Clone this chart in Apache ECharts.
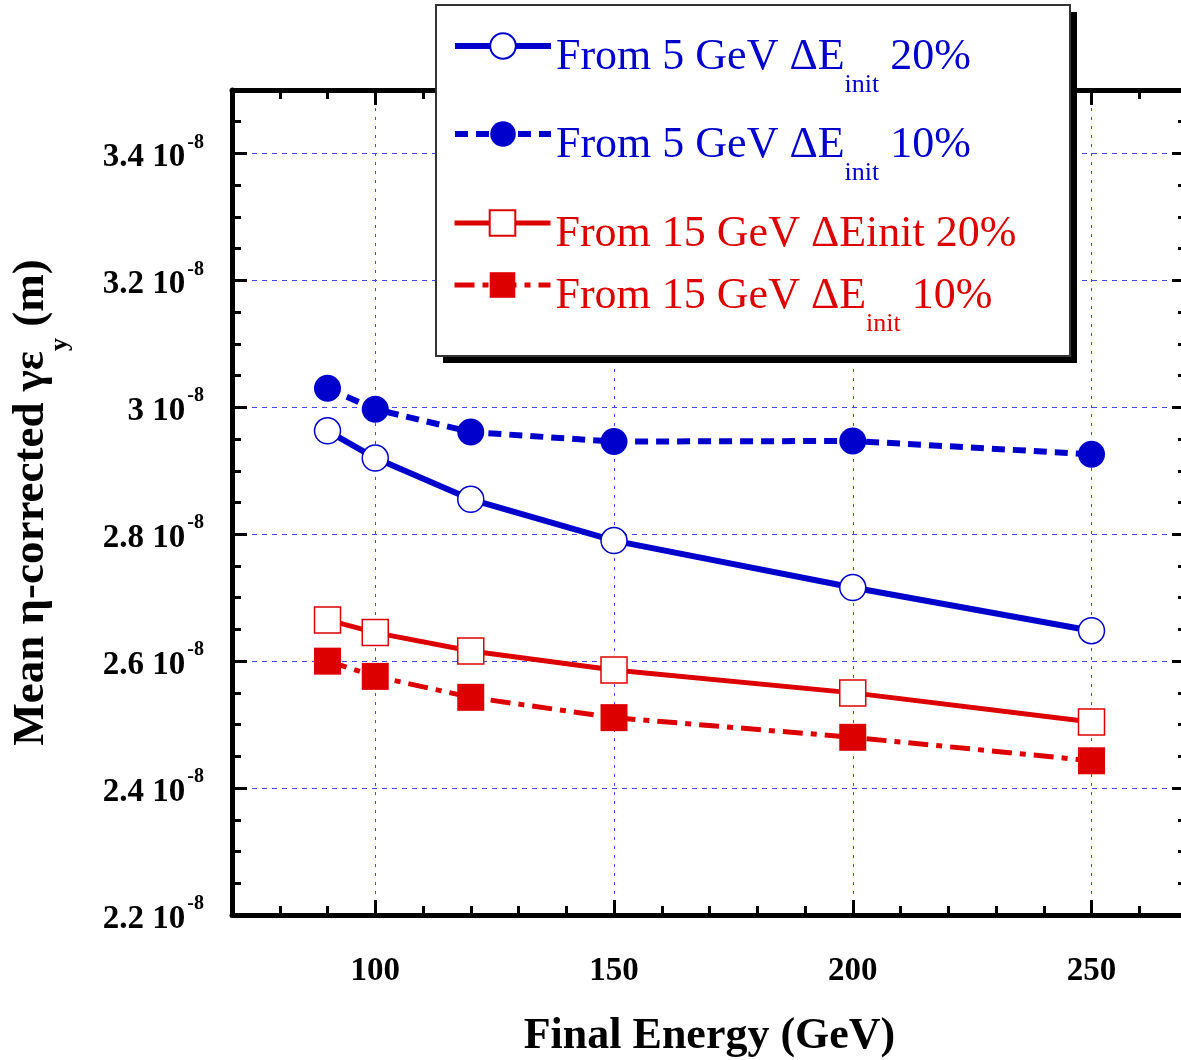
<!DOCTYPE html>
<html>
<head>
    <meta charset="utf-8" />
    <title>Mean eta-corrected emittance vs final energy</title>
    <script src="https://cdn.jsdelivr.net/npm/echarts@6.0.0/dist/echarts.min.js"></script>
    <style>
        html, body { margin: 0; padding: 0; background: #fff; }
        #chart { width: 1181px; height: 1060px; }
    </style>
</head>
<body>
<div id="chart"></div>
<script type="text/javascript">
    // final energy (GeV)
    var energies = [90, 100, 120, 150, 200, 250];
    // mean eta-corrected gamma*eps_y, in units of 1e-8 m
    var from5GeV20 = [2.963, 2.92, 2.855, 2.79, 2.716, 2.648];
    var from5GeV10 = [3.03, 2.997, 2.961, 2.946, 2.947, 2.926];
    var from15GeV20 = [2.665, 2.645, 2.616, 2.586, 2.55, 2.504];
    var from15GeV10 = [2.6, 2.576, 2.543, 2.511, 2.48, 2.443];
    var xTicks = [100, 150, 200, 250];
    var seriesNames = ['From 5 GeV ΔE init 20%', 'From 5 GeV ΔE init 10%', 'From 15 GeV ΔEinit 20%', 'From 15 GeV ΔE init 10%'];

    var FONT = "'Liberation Serif', 'Times New Roman', serif";
    var BLUE = '#0000cc';
    var RED = '#dd0000';
    var GRID = '#4646f0';

    var legendLabels = {};
    legendLabels[seriesNames[0]] = '{t|From 5 GeV ΔE}{s|init}{t| 20%}';
    legendLabels[seriesNames[1]] = '{t|From 5 GeV ΔE}{s|init}{t| 10%}';
    legendLabels[seriesNames[2]] = '{t|From 15 GeV ΔEinit 20%}';
    legendLabels[seriesNames[3]] = '{t|From 15 GeV ΔE}{s|init}{t| 10%}';

    function pairs(ys) {
        return energies.map(function (x, i) { return [x, ys[i]]; });
    }

    function fmtY(v) {
        return parseFloat(v.toFixed(2)).toString();
    }

    function makeLegend(name, top, color, lineWidth) {
        return {
            data: [name],
            left: 452,
            top: top,
            padding: 0,
            orient: 'vertical',
            itemWidth: 96,
            itemHeight: 32,
            selectedMode: false,
            z: 10,
            lineStyle: { width: lineWidth },
            formatter: function (n) { return legendLabels[n]; },
            textStyle: {
                color: color,
                rich: {
                    t: { fontFamily: FONT, fontSize: 44, lineHeight: 44, color: color, verticalAlign: 'middle', padding: [22, 0, 0, 0] },
                    s: { fontFamily: FONT, fontSize: 26, lineHeight: 26, color: color, verticalAlign: 'middle', padding: [78, 0, 0, 0] }
                }
            }
        };
    }

    function minorY(pos) {
        return {
            type: 'value', position: pos, min: 2.2, max: 3.5, interval: 0.05,
            axisLine: { show: false, onZero: false },
            axisTick: { show: true, inside: true, length: 9, lineStyle: { color: '#000', width: 3 } },
            axisLabel: { show: false },
            splitLine: { show: false }
        };
    }

    function minorX(pos) {
        return {
            type: 'value', position: pos, min: 70, max: 270, interval: 10,
            axisLine: { show: false, onZero: false },
            axisTick: { show: true, inside: true, length: 9, lineStyle: { color: '#000', width: 3 } },
            axisLabel: { show: false },
            splitLine: { show: false }
        };
    }

    var chart = echarts.init(document.getElementById('chart'));
    var option = {
        animation: false,
        backgroundColor: '#fff',
        grid: { left: 232, right: -6, top: 90, bottom: 145, outerBoundsMode: 'none', containLabel: false },
        graphic: [
            { type: 'rect', z: 5, silent: true, shape: { x: 443, y: 12, width: 634, height: 351 }, style: { fill: '#000' } },
            { type: 'rect', z: 6, silent: true, shape: { x: 436, y: 5, width: 634, height: 351 }, style: { fill: '#fff', stroke: '#333', lineWidth: 2 } }
        ],
        legend: [
            makeLegend(seriesNames[0], -6, BLUE, 6),
            makeLegend(seriesNames[1], 82, BLUE, 6),
            makeLegend(seriesNames[2], 190, RED, 5),
            makeLegend(seriesNames[3], 233, RED, 5)
        ],
        xAxis: [
            {
                type: 'value', position: 'bottom', min: 70, max: 270,
                axisLine: { onZero: false, lineStyle: { color: '#000', width: 5 } },
                axisTick: { inside: true, length: 15, customValues: xTicks, lineStyle: { color: '#000', width: 3 } },
                axisLabel: { customValues: xTicks, margin: 40, fontFamily: FONT, fontWeight: 'bold', fontSize: 33, color: '#000' },
                splitLine: { show: true, lineStyle: { color: GRID, width: 1, type: [3, 6] } },
                name: 'Final Energy (GeV)',
                nameLocation: 'middle',
                nameGap: 100,
                nameTextStyle: { fontFamily: FONT, fontWeight: 'bold', fontSize: 44, color: '#000' }
            },
            minorX('bottom'),
            {
                type: 'value', position: 'top', min: 70, max: 270,
                axisLine: { onZero: false, lineStyle: { color: '#000', width: 5 } },
                axisTick: { inside: true, length: 15, customValues: xTicks, lineStyle: { color: '#000', width: 3 } },
                axisLabel: { show: false },
                splitLine: { show: false }
            },
            minorX('top')
        ],
        yAxis: [
            {
                type: 'value', position: 'left', min: 2.2, max: 3.5, interval: 0.2,
                axisLine: { show: true, onZero: false, lineStyle: { color: '#000', width: 5 } },
                axisTick: { show: true, inside: true, length: 15, lineStyle: { color: '#000', width: 3 } },
                axisLabel: {
                    margin: 28,
                    formatter: function (v) {
                        if (v > 3.45) return '';
                        return '{m|' + fmtY(v) + ' 10}{e|-8}';
                    },
                    rich: {
                        m: { fontFamily: FONT, fontWeight: 'bold', fontSize: 33, lineHeight: 33, color: '#000', verticalAlign: 'middle', padding: [8, 0, 0, 0] },
                        e: { fontFamily: FONT, fontWeight: 'bold', fontSize: 20, lineHeight: 20, color: '#000', verticalAlign: 'middle', padding: [0, 0, 22, 2] }
                    }
                },
                splitLine: { show: true, showMinLine: false, showMaxLine: false, lineStyle: { color: GRID, width: 1, type: [5, 5] } },
                name: '{a|Mean η-corrected γε}{b|y}{a| (m)}',
                nameLocation: 'middle',
                nameRotate: 90,
                nameGap: 178,
                nameTextStyle: {
                    rich: {
                        a: { fontFamily: FONT, fontWeight: 'bold', fontSize: 45, lineHeight: 45, color: '#000', verticalAlign: 'middle' },
                        b: { fontFamily: FONT, fontWeight: 'bold', fontSize: 26, lineHeight: 26, color: '#000', verticalAlign: 'middle', padding: [58, 0, 0, 0] }
                    }
                }
            },
            minorY('left'),
            {
                type: 'value', position: 'right', min: 2.2, max: 3.5, interval: 0.2,
                axisLine: { show: true, onZero: false, lineStyle: { color: '#000', width: 5 } },
                axisTick: { show: true, inside: true, length: 15, lineStyle: { color: '#000', width: 3 } },
                axisLabel: { show: false },
                splitLine: { show: false }
            },
            minorY('right')
        ],
        series: [
            {
                name: seriesNames[0],
                type: 'line',
                data: pairs(from5GeV20),
                symbol: 'circle',
                symbolSize: 26,
                itemStyle: { color: '#fff', borderColor: BLUE, borderWidth: 1.5 },
                lineStyle: { color: BLUE, width: 6, type: 'solid' },
                z: 3
            },
            {
                name: seriesNames[1],
                type: 'line',
                data: pairs(from5GeV10),
                symbol: 'circle',
                symbolSize: 27,
                itemStyle: { color: BLUE },
                lineStyle: { color: BLUE, width: 6, type: [13, 8] },
                z: 3
            },
            {
                name: seriesNames[2],
                type: 'line',
                data: pairs(from15GeV20),
                symbol: 'rect',
                symbolSize: 26,
                itemStyle: { color: '#fff', borderColor: RED, borderWidth: 1.5 },
                lineStyle: { color: RED, width: 5, type: 'solid' },
                z: 3
            },
            {
                name: seriesNames[3],
                type: 'line',
                data: pairs(from15GeV10),
                symbol: 'rect',
                symbolSize: 27,
                itemStyle: { color: RED },
                lineStyle: { color: RED, width: 5, type: [20, 8, 6, 8] },
                z: 3
            }
        ]
    };
    chart.setOption(option);
</script>
</body>
</html>
